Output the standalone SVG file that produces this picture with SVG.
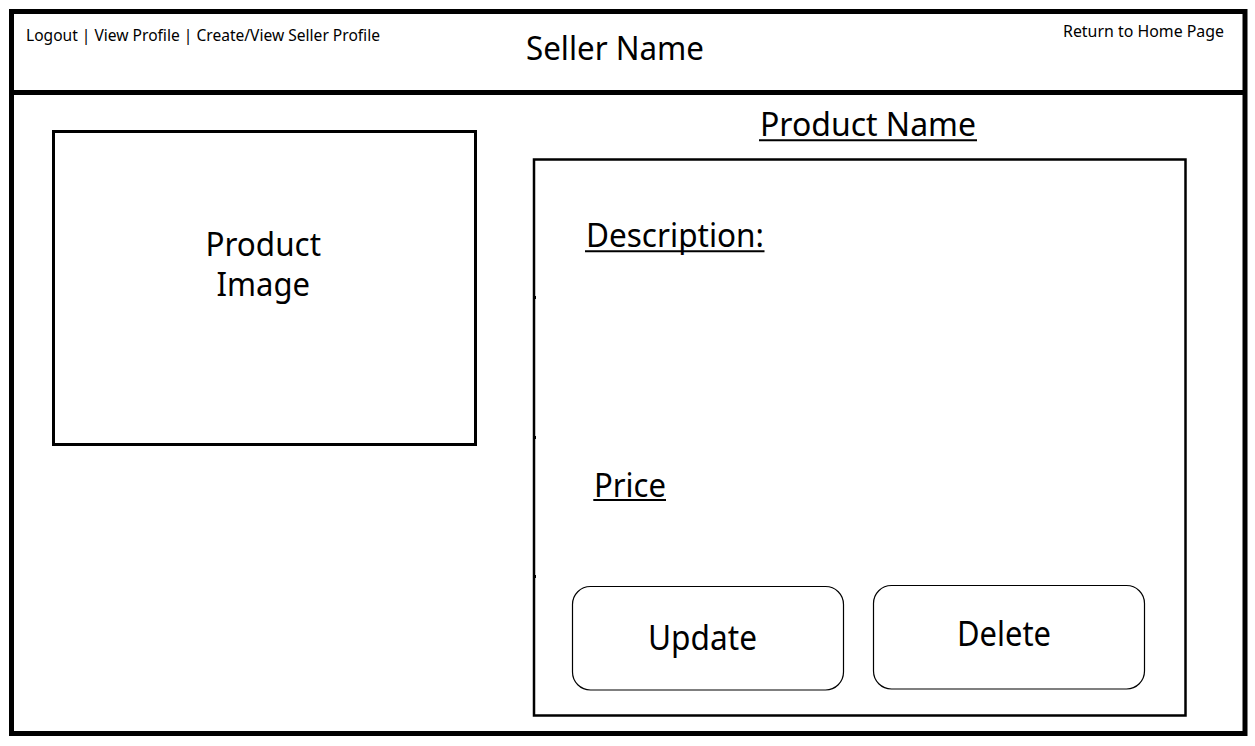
<svg xmlns="http://www.w3.org/2000/svg" width="1255" height="746" viewBox="0 0 1255 746">
  <style>
    .t { font-family: "Noto Sans", "Open Sans", "DejaVu Sans", sans-serif; fill: #000; }
    .sm { font-size: 16px; }
    .lg { font-size: 32px; }
    .btn { font-size: 34px; }
    .frame { fill: none; stroke: #000; stroke-width: 5; }
    .box { fill: none; stroke: #000; stroke-width: 3; }
    .panel { fill: none; stroke: #000; stroke-width: 2.5; }
    .button { fill: #fff; stroke: #000; stroke-width: 1.2; }
    .ul { stroke: #000; stroke-width: 2; }
  </style>
  <rect width="1255" height="746" fill="#fff"/>

  <g id="frame">
    <rect class="frame" x="11.5" y="11.5" width="1233.5" height="722"/>
    <line class="frame" x1="11.5" y1="92.5" x2="1245" y2="92.5"/>
  </g>

  <g id="header">
    <text class="t sm" x="26" y="41" textLength="354" lengthAdjust="spacingAndGlyphs">Logout | View Profile | Create/View Seller Profile</text>
    <text class="t lg" x="526" y="59.5" textLength="178" lengthAdjust="spacingAndGlyphs">Seller Name</text>
    <text class="t sm" x="1063" y="36.5" textLength="161" lengthAdjust="spacingAndGlyphs">Return to Home Page</text>
  </g>

  <g id="product-image">
    <rect class="box" x="53.5" y="131.5" width="422" height="313"/>
    <text class="t lg" x="205.5" y="256" textLength="115.5" lengthAdjust="spacingAndGlyphs">Product</text>
    <text class="t lg" x="216.5" y="296" textLength="93.5" lengthAdjust="spacingAndGlyphs">Image</text>
  </g>

  <g id="product-name">
    <text class="t lg" x="760" y="136" textLength="216" lengthAdjust="spacingAndGlyphs">Product Name</text>
    <line class="ul" x1="759" y1="140.3" x2="977" y2="140.3"/>
  </g>

  <g id="details-panel">
    <rect class="panel" x="534" y="159.5" width="651.5" height="556"/>
    <rect x="533" y="296" width="3" height="3" fill="#000"/>
    <rect x="533" y="436" width="3" height="3" fill="#000"/>
    <rect x="533" y="575" width="3" height="3" fill="#000"/>
    <text class="t lg" x="586" y="247" textLength="178" lengthAdjust="spacingAndGlyphs">Description:</text>
    <line class="ul" x1="585" y1="251.3" x2="764.5" y2="251.3"/>
    <text class="t lg" x="594" y="497" textLength="72" lengthAdjust="spacingAndGlyphs">Price</text>
    <line class="ul" x1="593.3" y1="500" x2="666" y2="500"/>
  </g>

  <g id="update-button">
    <rect class="button" x="572.5" y="586.5" width="271" height="103.5" rx="18" ry="18"/>
    <text class="t btn" x="648" y="649.5" textLength="109" lengthAdjust="spacingAndGlyphs">Update</text>
  </g>

  <g id="delete-button">
    <rect class="button" x="873.5" y="585.5" width="271" height="103.5" rx="18" ry="18"/>
    <text class="t btn" x="957" y="646" textLength="94" lengthAdjust="spacingAndGlyphs">Delete</text>
  </g>

  <g id="connectors"></g>
</svg>
